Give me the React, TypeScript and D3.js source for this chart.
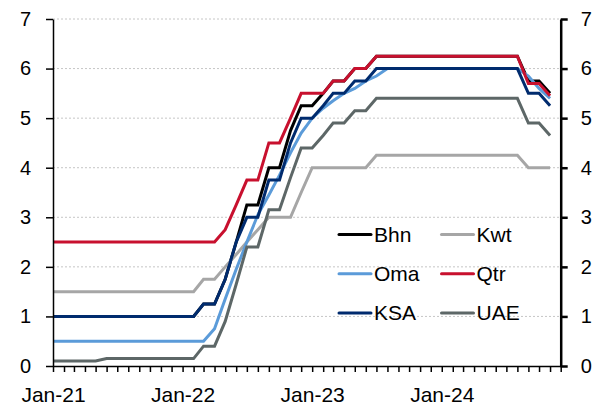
import React, { useRef, useEffect } from 'react';
import * as d3 from 'd3';

// monthly policy rates, Jan-21 .. Nov-24 (47 months)
const bhn = [
    1, 1, 1, 1, 1, 1, 1, 1, 1, 1, 1, 1, 1, 1,
    1.25, 1.25, 1.75, 2.5, 3.25, 3.25, 4, 4, 4.75, 5.25, 5.25, 5.5, 5.75, 5.75, 6, 6,
    6.25, 6.25, 6.25, 6.25, 6.25, 6.25, 6.25, 6.25, 6.25, 6.25, 6.25, 6.25, 6.25, 6.25,
    5.75, 5.75, 5.5
];
const kwt = [
    1.5, 1.5, 1.5, 1.5, 1.5, 1.5, 1.5, 1.5, 1.5, 1.5, 1.5, 1.5, 1.5, 1.5,
    1.75, 1.75, 2, 2.25, 2.5, 2.75, 3, 3, 3, 3.5, 4, 4, 4, 4, 4, 4,
    4.25, 4.25, 4.25, 4.25, 4.25, 4.25, 4.25, 4.25, 4.25, 4.25, 4.25, 4.25, 4.25, 4.25,
    4, 4, 4
];
const oma = [
    0.5, 0.5, 0.5, 0.5, 0.5, 0.5, 0.5, 0.5, 0.5, 0.5, 0.5, 0.5, 0.5, 0.5, 0.5,
    0.75, 1.35, 1.95, 2.5, 3.05, 3.45, 3.85, 4.3, 4.7, 5, 5.2, 5.35, 5.5, 5.6, 5.75, 5.85,
    6, 6, 6, 6, 6, 6, 6, 6, 6, 6, 6, 6, 6,
    5.85, 5.6, 5.4
];
const qtr = [
    2.5, 2.5, 2.5, 2.5, 2.5, 2.5, 2.5, 2.5, 2.5, 2.5, 2.5, 2.5, 2.5, 2.5, 2.5, 2.5,
    2.75, 3.25, 3.75, 3.75, 4.5, 4.5, 5, 5.5, 5.5, 5.5, 5.75, 5.75, 6, 6,
    6.25, 6.25, 6.25, 6.25, 6.25, 6.25, 6.25, 6.25, 6.25, 6.25, 6.25, 6.25, 6.25, 6.25,
    5.7, 5.7, 5.45
];
const ksa = [
    1, 1, 1, 1, 1, 1, 1, 1, 1, 1, 1, 1, 1, 1,
    1.25, 1.25, 1.75, 2.5, 3, 3, 3.75, 3.75, 4.5, 5, 5, 5.25, 5.5, 5.5, 5.75, 5.75,
    6, 6, 6, 6, 6, 6, 6, 6, 6, 6, 6, 6, 6, 6,
    5.5, 5.5, 5.25
];
const uae = [
    0.1, 0.1, 0.1, 0.1, 0.1,
    0.15, 0.15, 0.15, 0.15, 0.15, 0.15, 0.15, 0.15, 0.15,
    0.4, 0.4, 0.9, 1.65, 2.4, 2.4, 3.15, 3.15, 3.8, 4.4, 4.4, 4.65, 4.9, 4.9, 5.15, 5.15,
    5.4, 5.4, 5.4, 5.4, 5.4, 5.4, 5.4, 5.4, 5.4, 5.4, 5.4, 5.4, 5.4, 5.4,
    4.9, 4.9, 4.65
];

const SERIES = [
    { name: "Bhn", color: "#000000", values: bhn },
    { name: "Kwt", color: "#a6a6a6", values: kwt },
    { name: "Oma", color: "#5b9bd9", values: oma },
    { name: "Qtr", color: "#c8102e", values: qtr },
    { name: "KSA", color: "#002b6e", values: ksa },
    { name: "UAE", color: "#5d6767", values: uae }
];

const yTicks = [0, 1, 2, 3, 4, 5, 6, 7];
const FONT = "Arial, 'Liberation Sans', sans-serif";

const App: React.FC = () => {
    const svgRef = useRef<SVGSVGElement>(null);

    useEffect(() => {
        if (!svgRef.current) return;
        const svg = d3.select(svgRef.current);
        svg.selectAll("*").remove();

        const W = 601, H = 405;
        const left = 53, right = 560.7, top = 19, bottom = 366;

        const start = new Date(2021, 0, 1);
        const end = new Date(2024, 11, 1);
        const months = d3.timeMonth.range(start, new Date(2025, 0, 1));

        const x = d3.scaleTime().domain([start, end]).range([left, right]);
        const y = d3.scaleLinear().domain([0, 7]).range([bottom, top]);

        // dotted grid
        svg.append("g")
            .selectAll("line")
            .data(yTicks.filter(t => t > 0))
            .join("line")
            .attr("x1", left)
            .attr("x2", right)
            .attr("y1", d => y(d))
            .attr("y2", d => y(d))
            .attr("stroke", "#c6c6c6")
            .attr("stroke-width", 1)
            .attr("stroke-dasharray", "2,2");

        // series
        const line = d3.line<number>()
            .x((_, i) => x(new Date(2021, i, 1)))
            .y(d => y(d));

        SERIES.forEach(s => {
            svg.append("path")
                .datum(s.values)
                .attr("d", line)
                .attr("fill", "none")
                .attr("stroke", s.color)
                .attr("stroke-width", 3);
        });

        // left axis
        const gl = svg.append("g")
            .attr("transform", `translate(${left},0)`)
            .call(d3.axisLeft(y).tickValues(yTicks).tickSize(7).tickSizeOuter(0).tickPadding(15).tickFormat(d3.format("d")));
        gl.selectAll("path, line").attr("stroke", "#000").attr("stroke-width", 1.5);

        // right axis
        const gr = svg.append("g")
            .attr("transform", `translate(${right},0)`)
            .call(d3.axisRight(y).tickValues(yTicks).tickSize(7).tickSizeOuter(0).tickPadding(13).tickFormat(d3.format("d")));
        gr.selectAll("path, line").attr("stroke", "#000").attr("stroke-width", 2.5);

        // bottom axis
        const gb = svg.append("g")
            .attr("transform", `translate(0,${bottom})`)
            .call(d3.axisBottom(x)
                .tickValues(months)
                .tickSize(6)
                .tickSizeOuter(0)
                .tickFormat((d: any) => d.getMonth() === 0 ? d3.timeFormat("Jan-%y")(d) : ""));
        gb.selectAll("path, line").attr("stroke", "#000").attr("stroke-width", 1.5);

        [gl, gr, gb].forEach(g => {
            g.attr("font-family", FONT).attr("font-size", 20);
            g.selectAll("text").attr("fill", "#000");
        });
        gb.attr("font-size", 21);
        gb.selectAll("text").attr("y", 0).attr("dy", "36px");

        // legend
        const legend = svg.append("g");
        SERIES.forEach((s, i) => {
            const col = i % 2;
            const row = Math.floor(i / 2);
            const lx = 339 + col * 102.5;
            const ly = 234.5 + row * 39.2;
            legend.append("line")
                .attr("x1", lx)
                .attr("x2", lx + 32)
                .attr("y1", ly)
                .attr("y2", ly)
                .attr("stroke", s.color)
                .attr("stroke-width", 3)
                .attr("stroke-linecap", "round");
            legend.append("text")
                .attr("x", lx + 35)
                .attr("y", ly)
                .attr("dy", "0.36em")
                .attr("font-family", FONT)
                .attr("font-size", 21)
                .attr("fill", "#000")
                .text(s.name);
        });

        svg.attr("width", W).attr("height", H);
    }, []);

    return (
        <div style={{ position: 'absolute', left: 0, top: 0 }}>
            <svg ref={svgRef} width={601} height={405} style={{ display: 'block' }} />
        </div>
    );
};

export default App;
